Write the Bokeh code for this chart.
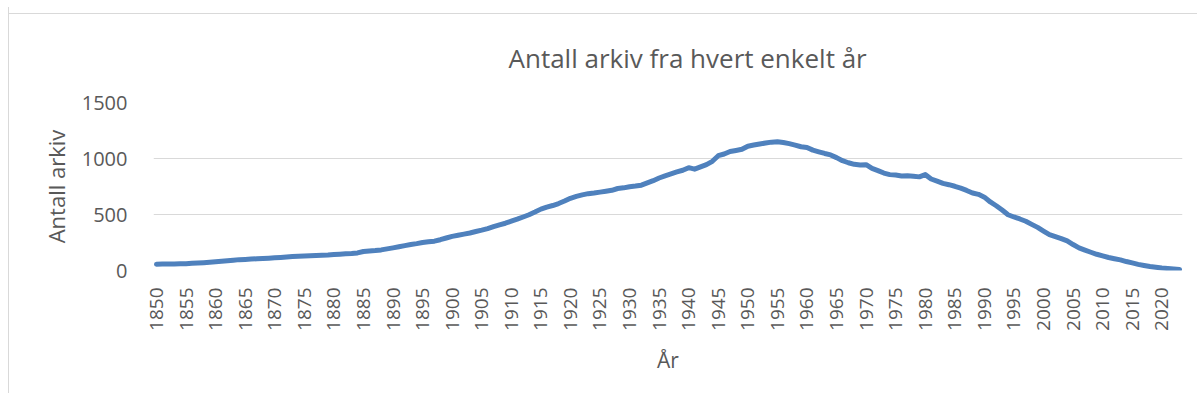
from bokeh.plotting import figure
from bokeh.models import Range1d, FixedTicker, Title, ColumnDataSource
from bokeh.embed import file_html
from bokeh.resources import INLINE

# ---- data ----
years = list(range(1850, 2024))
antall = [
    56, 57, 58, 59, 60, 61, 64, 67, 70, 74,            # 1850-1859
    78, 82, 87, 92, 97, 99, 102, 105, 108, 110,        # 1860-1869
    113, 116, 120, 124, 128, 130, 132, 134, 136, 138,  # 1870-1879
    142, 146, 149, 152, 157, 170, 174, 178, 184, 193,  # 1880-1889
    202, 212, 222, 232, 240, 250, 256, 262, 275, 290,  # 1890-1899
    305, 315, 325, 335, 348, 360, 374, 392, 408, 422,  # 1900-1909
    440, 458, 478, 498, 522, 548, 566, 580, 598, 620,  # 1910-1919
    645, 662, 675, 686, 692, 700, 708, 716, 732, 738,  # 1920-1929
    748, 754, 762, 782, 802, 826, 845, 862, 880, 895,  # 1930-1939
    918, 905, 925, 945, 975, 1025, 1040, 1063, 1072, 1082,  # 1940-1949
    1110, 1120, 1129, 1138, 1146, 1150, 1143, 1133, 1120, 1105,  # 1950-1959
    1099, 1075, 1060, 1045, 1032, 1008, 980, 962, 948, 942,  # 1960-1969
    945, 912, 892, 870, 856, 852, 844, 845, 842, 836,  # 1970-1979
    856, 817, 798, 778, 766, 752, 736, 715, 692, 680,  # 1980-1989
    655, 612, 578, 540, 498, 478, 460, 440, 412, 385,  # 1990-1999
    352, 320, 302, 285, 265, 232, 202, 182, 163, 145,  # 2000-2009
    130, 116, 105, 95, 80, 68, 55, 45, 36, 29,         # 2010-2019
    22, 17, 13, 10,                                    # 2020-2023
]
x_ticks = list(range(1850, 2021, 5))
y_ticks = [0, 500, 1000, 1500]
title_text = "Antall arkiv fra hvert enkelt år"
x_label = "År"
y_label = "Antall arkiv"

FONT = "Open Sans"
GREY = "#595959"

src = ColumnDataSource(dict(year=years, antall=antall))

p = figure(
    width=1189, height=386,
    output_backend="svg", toolbar_location=None,
    x_range=Range1d(1849.5, 2023.5), y_range=Range1d(0, 1500),
    min_border_left=144, min_border_right=16,
    min_border_top=95, min_border_bottom=123,
    outline_line_color=None, background_fill_color="white",
    border_fill_color="white", border_fill_alpha=0,
)
p.margin = (7, 0, 0, 8)
p.styles = {
    "border-left": "1px solid #d9d9d9",
    "background-color": "white",
    "background-image": "linear-gradient(#d9d9d9, #d9d9d9)",
    "background-size": "100% 1px",
    "background-position": "0 6px",
    "background-repeat": "no-repeat",
}

p.line("year", "antall", source=src, line_color="#4f81bd", line_width=5,
       line_join="round", line_cap="round")

t = Title(text=title_text, align="left", offset=355,
          text_font=FONT, text_font_size="26px", text_font_style="normal",
          text_color=GREY)
t.standoff = 54
p.add_layout(t, "above")

# x axis
xa = p.xaxis[0]
xa.ticker = FixedTicker(ticks=x_ticks)
xa.major_label_orientation = 3.14159265 / 2
xa.major_label_text_font = FONT
xa.major_label_text_font_size = "19px"
xa.major_label_text_color = GREY
xa.major_label_standoff = 17
xa.major_tick_out = 0
xa.major_tick_in = 0
xa.minor_tick_out = 0
xa.minor_tick_in = 0
xa.axis_line_color = None
xa.axis_label = x_label
xa.axis_label_text_font = FONT
xa.axis_label_text_font_size = "21px"
xa.axis_label_text_font_style = "normal"
xa.axis_label_text_color = GREY
xa.axis_label_standoff = 12

# y axis
ya = p.yaxis[0]
ya.ticker = FixedTicker(ticks=y_ticks)
ya.major_label_text_font = FONT
ya.major_label_text_font_size = "20px"
ya.major_label_text_color = GREY
ya.major_label_standoff = 26
ya.major_tick_out = 0
ya.major_tick_in = 0
ya.minor_tick_out = 0
ya.minor_tick_in = 0
ya.axis_line_color = None
ya.axis_label = y_label
ya.axis_label_text_font = FONT
ya.axis_label_text_font_size = "22px"
ya.axis_label_text_font_style = "normal"
ya.axis_label_text_color = GREY
ya.axis_label_standoff = 8

p.xgrid.grid_line_color = None
p.ygrid.grid_line_color = "#d9d9d9"
p.ygrid.grid_line_width = 1

open("out.html", "w").write(file_html(p, INLINE))
